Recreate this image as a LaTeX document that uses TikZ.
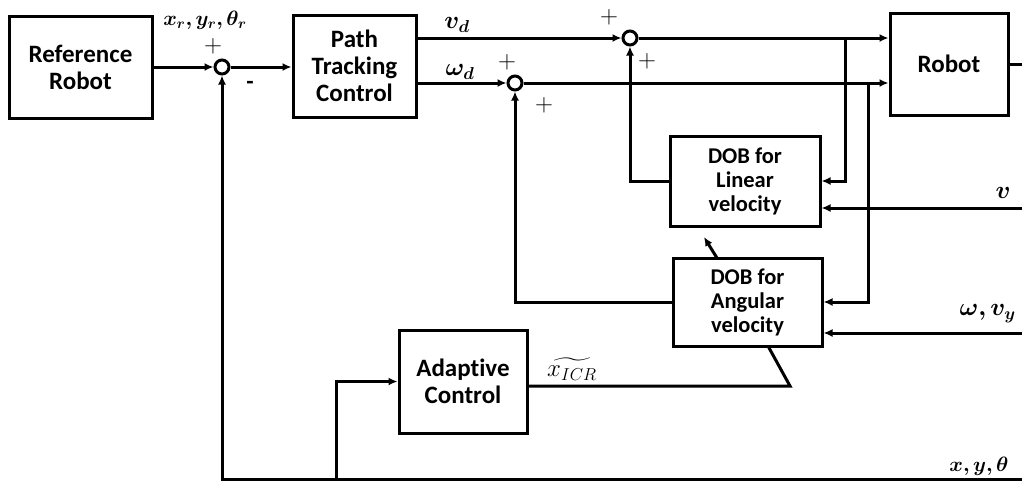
\documentclass[tikz,border=0pt]{standalone}
\usepackage{amsmath}
\usepackage{bm}
\usepackage{fontspec}
\setmainfont{Carlito}[Ligatures=NoCommon]
\usetikzlibrary{arrows.meta}
\begin{document}
\begin{tikzpicture}[x=1pt,y=-1pt,
  every path/.style={line width=3pt},
  blk/.style={draw,line width=3pt,rectangle,align=center,inner sep=0pt,font=\fontsize{25}{27}\selectfont\bfseries},
  dob/.style={blk,font=\fontsize{22.5}{24}\selectfont\bfseries},
  sumc/.style={draw,circle,line width=3pt,minimum size=14pt,inner sep=0pt},
  arr/.style={-{Latex[length=9pt,width=8pt]}},
  lbl/.style={font=\fontsize{23}{26}\selectfont,inner sep=0pt},
  pls/.style={font=\fontsize{26}{28}\selectfont,inner sep=0pt}
]
\useasboundingbox (0,0) rectangle (1022,480);

% blocks
\node[blk,minimum width=143pt,minimum height=102pt] (refrobot) at (80.5,67) {Reference\\Robot};
\node[sumc] (sum1) at (222,67) {};
\node[blk,minimum width=123pt,minimum height=102pt] (ptc) at (354.5,66) {Path\\Tracking\\Control};
\node[sumc] (sumv) at (630,38) {};
\node[sumc] (sumw) at (515,83) {};
\node[blk,minimum width=118pt,minimum height=102pt] (robot) at (949,64) {Robot};
\node[dob,minimum width=150pt,minimum height=90pt] (dobl) at (745,181) {DOB for\\Linear\\velocity};
\node[dob,minimum width=149pt,minimum height=88pt] (doba) at (747.5,302) {DOB for\\Angular\\velocity};
\node[blk,minimum width=128pt,minimum height=103pt] (adapt) at (463,381.5) {Adaptive\\Control};

% coordinates
\coordinate (bv) at (845,38);
\coordinate (bw) at (868,83);
\coordinate (vin) at (1022,208);
\coordinate (win) at (1022,333);
\coordinate (rout) at (1022,64);
\coordinate (fb) at (1022,479);
\coordinate (fbb) at (336,479);
\coordinate (ak) at (790,386);
\coordinate (ab) at (768,346);
\coordinate (dobtip) at (704,237);
\coordinate (dobfoot) at (717,258);

% connectors
\draw[arr] (refrobot.east) -- (sum1.west);
\draw[arr] (sum1.east) -- (ptc.west |- sum1);
\draw[arr] (ptc.east |- sumv) -- (sumv.west);
\draw[arr] (ptc.east |- sumw) -- (sumw.west);
\draw[arr] (sumv.east) -- (robot.west |- sumv);
\draw[arr] (sumw.east) -- (robot.west |- sumw);
\draw[arr] (bv) |- (dobl.east);
\draw[arr] (bw) |- (doba.east);
\draw[arr] (vin) -- (dobl.east |- vin);
\draw[arr] (win) -- (doba.east |- win);
\draw[arr] (dobl.west) -| (sumv.south);
\draw[arr] (doba.west) -| (sumw.south);
\draw[arr] (dobfoot) -- (dobtip);
\draw (robot.east |- rout) -- (rout);
\draw[arr] (fb) -| (sum1.south);
\draw[arr] (fbb) |- (adapt.west);
\draw (adapt.east |- ak) -- (ak) -- (ab);

% labels
\node[lbl,font=\fontsize{21}{24}\selectfont] (lxr) at (205,20) {$\bm{x_r, y_r, \theta_r}$};
\node[pls] (p1) at (213,46) {$+$};
\node[lbl,font=\fontsize{24}{24}\selectfont\bfseries] (m1) at (250,85) {-};
\node[lbl] (lvd) at (457,25) {$\bm{v_d}$};
\node[lbl] (lwd) at (460,72) {$\bm{\omega_d}$};
\node[pls] (p2) at (609,17) {$+$};
\node[pls] (p3) at (647,61) {$+$};
\node[pls] (p4) at (507,62) {$+$};
\node[pls] (p5) at (544,105) {$+$};
\node[lbl] (lv) at (1003,193) {$\bm{v}$};
\node[lbl,anchor=west,font=\fontsize{24}{26}\selectfont] (lw) at (958,314) {$\bm{\omega, v_y}$};
\node[lbl] (lx) at (572,369) {$\widetilde{x_{ICR}}$};
\node[lbl,font=\fontsize{21}{24}\selectfont] (lxyt) at (979,466) {$\bm{x, y, \theta}$};
\end{tikzpicture}
\end{document}
